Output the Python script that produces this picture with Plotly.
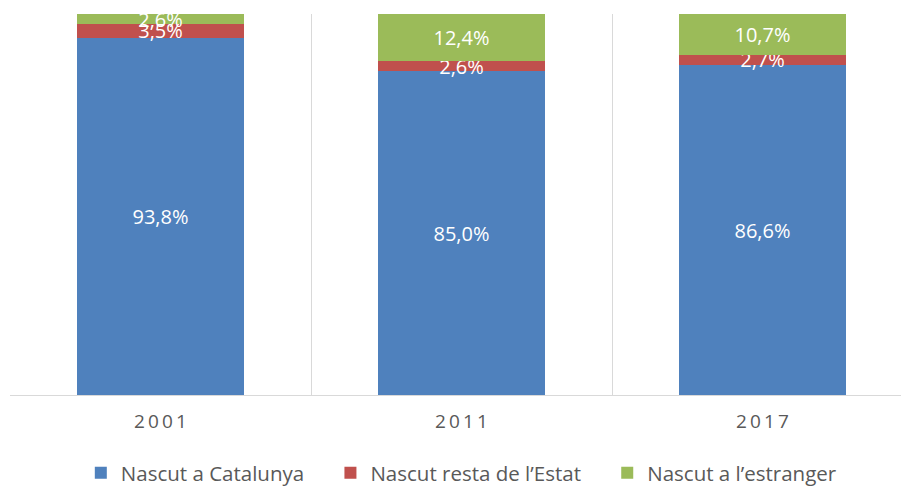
import plotly.graph_objects as go

years = ["2001", "2011", "2017"]
year_ticks = ["2\u20090\u20090\u20091", "2\u20090\u20091\u20091", "2\u20090\u20091\u20097"]
catalunya = [93.8, 85.0, 86.6]
resta_estat = [3.5, 2.6, 2.7]
estranger = [2.6, 12.4, 10.7]
series_names = ["Nascut a Catalunya" + "\u00a0" * 4,
                "Nascut resta de l\u2019Estat" + "\u00a0" * 4,
                "Nascut a l\u2019estranger"]
colors = ["#4F81BD", "#C0504D", "#9BBB59"]

FONT = "Open Sans"
xpos = list(range(len(years)))

fig = go.Figure()
for name, vals, col in zip(series_names, [catalunya, resta_estat, estranger], colors):
    fig.add_trace(go.Bar(
        x=xpos, y=vals, name=name,
        marker=dict(color=col, line=dict(width=0)),
        width=0.555,
        texttemplate="%{y:.1f}%",
        textposition="inside",
        insidetextanchor="middle",
        textangle=0,
        constraintext="none",
        cliponaxis=False,
        textfont=dict(family=FONT, size=20, color="white"),
    ))

fig.update_layout(
    barmode="stack",
    separators=",.",
    width=901, height=486,
    margin=dict(l=10, r=0, t=14, b=91),
    paper_bgcolor="white", plot_bgcolor="white",
    showlegend=True,
    uniformtext=dict(minsize=20, mode="show"),
    legend=dict(
        orientation="h", x=0.512, xanchor="center", xref="container",
        y=0.027, yanchor="middle", yref="container",
        font=dict(family=FONT, size=20.5, color="#595959"),
        itemclick=False, traceorder="normal",
    ),
    xaxis=dict(
        range=[-0.5, -0.5 + 891 / 301],
        tickvals=xpos, ticktext=year_ticks,
        showgrid=False, zeroline=False,
        showline=False, ticks="",
        ticklabelstandoff=13,
        tickfont=dict(family=FONT, size=19, color="#595959"),
        minor=dict(tick0=-0.5, dtick=1, showgrid=True, gridcolor="#D9D9D9", gridwidth=1, ticks=""),
    ),
    yaxis=dict(
        range=[0, 100], visible=True, showticklabels=False, showgrid=False,
        zeroline=True, zerolinecolor="#D9D9D9", zerolinewidth=1, ticks="",
    ),
)

fig.write_html("out.html", config={"displayModeBar": False},
               post_script="document.body.style.margin='0';")
